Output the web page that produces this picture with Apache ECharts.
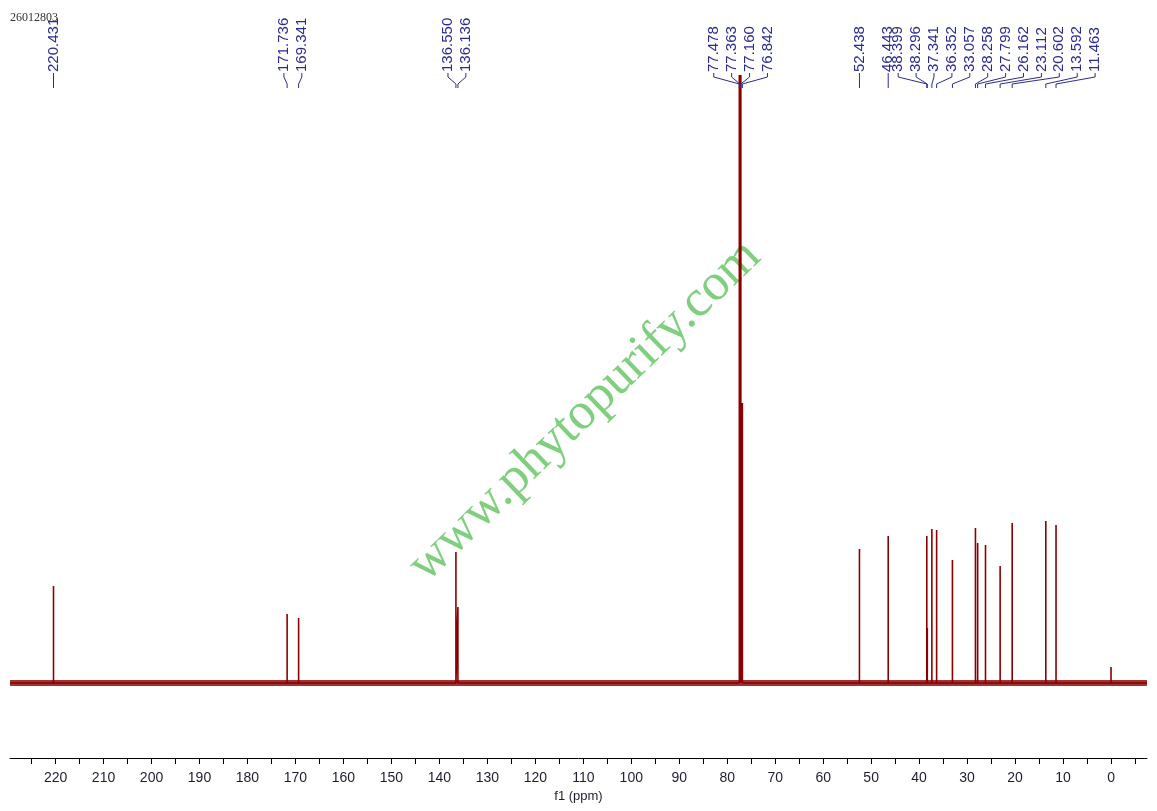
<!DOCTYPE html>
<html>
<head>
<meta charset="utf-8">
<script src="https://cdn.jsdelivr.net/npm/echarts@6/dist/echarts.min.js"></script>
<style>
  html, body { margin: 0; padding: 0; background: #fff; }
  #main { width: 1157px; height: 811px; }
</style>
</head>
<body>
<div id="main"></div>
<script>
// 13C spectrum, peak list (ppm, relative height)
const peakPpm = [220.431, 171.736, 169.341, 136.550, 136.136, 77.478, 77.363, 77.160, 76.842,
  52.438, 46.443, 38.399, 38.296, 37.341, 36.352, 33.057, 28.258, 27.799, 26.162,
  23.112, 20.602, 13.592, 11.463];
const peakHeight = [97, 69, 65, 131, 76, 608, 300, 608, 280,
  134, 147, 147, 55, 154, 153, 123, 155, 140, 138,
  117, 160, 162, 158];
// unlabelled line (TMS)
const extraPpm = [0.0];
const extraHeight = [16];

const tickValues = [];
for (let v = -5; v <= 225; v += 5) tickValues.push(v);
const labelValues = [];
for (let v = 0; v <= 220; v += 10) labelValues.push(v);

const ppmMin = -7.5, ppmMax = 229.5;
const red = '#8b0000';
const blue = '#2b2b8f';

// stick spectrum, walked from high ppm to low ppm
const lines = peakPpm.map((p, i) => [p, peakHeight[i]])
  .concat(extraPpm.map((p, i) => [p, extraHeight[i]]))
  .sort((a, b) => b[0] - a[0]);
const spectrum = [[ppmMax, 0]];
lines.forEach(l => {
  spectrum.push([l[0], 0], [l[0], l[1]], [l[0], 0]);
});
spectrum.push([ppmMin, 0]);

const chart = echarts.init(document.getElementById('main'));
chart.setOption({
  animation: false,
  grid: { left: 10, right: 10, top: 75, bottom: 53 },
  xAxis: {
    type: 'value',
    inverse: true,
    min: ppmMin,
    max: ppmMax,
    name: 'f1 (ppm)',
    nameLocation: 'middle',
    nameGap: 31,
    nameTextStyle: { fontFamily: 'Arial', fontSize: 13, color: '#1e1e2e' },
    axisLine: { onZero: false, lineStyle: { color: '#000', width: 1 } },
    axisTick: { customValues: tickValues, length: 6, lineStyle: { color: '#000' } },
    axisLabel: {
      customValues: labelValues,
      fontFamily: 'Arial', fontSize: 14, color: '#1e1e2e', margin: 13
    },
    splitLine: { show: false }
  },
  yAxis: { type: 'value', min: -75, max: 608, show: false },
  series: [
    {
      type: 'line',
      data: [[ppmMax, 0], [ppmMin, 0]],
      symbol: 'none',
      silent: true,
      lineStyle: { color: red, width: 6, opacity: 0.8 }
    },
    {
      type: 'line',
      data: spectrum,
      symbol: 'none',
      lineStyle: { color: red, width: 1.6 }
    }
  ]
});

// peak labels: spread clusters apart, pushing right of the previous one
function spreadLabels(xs, gap, minGap) {
  const groups = [];
  xs.forEach((x, i) => {
    const last = groups[groups.length - 1];
    if (last && x < last.start + (last.n - 1) * gap + gap) {
      last.n += 1;
      last.sum += x;
      last.start = Math.max(last.sum / last.n - (last.n - 1) * gap / 2, last.floor);
    } else {
      const floor = last ? last.start + (last.n - 1) * gap + minGap : -Infinity;
      groups.push({ first: i, n: 1, sum: x, start: Math.max(x, floor), floor: floor });
    }
  });
  const out = [];
  groups.forEach(g => {
    for (let k = 0; k < g.n; k++) out.push(g.start + k * gap);
  });
  return out;
}

const order = peakPpm.map((p, i) => i).sort((a, b) => peakPpm[b] - peakPpm[a]);
const peakX = order.map(i => chart.convertToPixel({ xAxisIndex: 0 }, peakPpm[i]));
const labelX = spreadLabels(peakX, 17.9, 10);

const graphics = [
  {
    type: 'text', x: 10, y: 12, z: 10,
    style: { text: '26012803', font: '12px "Liberation Serif"', fill: '#333' }
  },
  {
    type: 'text', x: 585, y: 411, z: 0,
    rotation: 44 * Math.PI / 180,
    style: {
      text: 'www.phytopurify.com',
      font: '52px "Liberation Serif"',
      fill: '#7fcf7f',
      textAlign: 'center',
      textVerticalAlign: 'middle'
    }
  }
];
order.forEach((i, k) => {
  const lx = labelX[k], px = peakX[k];
  graphics.push({
    type: 'text', x: lx, y: 72, rotation: Math.PI / 2, z: 10,
    style: {
      text: peakPpm[i].toFixed(3),
      font: '15px Arial',
      fill: blue,
      textAlign: 'left',
      textVerticalAlign: 'middle'
    }
  });
  graphics.push({
    type: 'polyline', z: 10,
    shape: { points: [[lx, 73], [lx, 77], [px, 84], [px, 88]] },
    style: { stroke: blue, lineWidth: 1, fill: null }
  });
});
chart.setOption({ graphic: graphics });
</script>
</body>
</html>
